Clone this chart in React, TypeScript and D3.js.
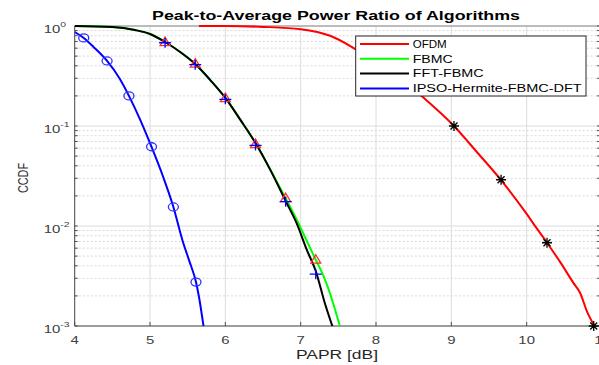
import React from "react";
import * as d3 from "d3";

// series (x = PAPR in dB, y = CCDF)
const ofdmX = [5.65, 6.0, 6.5, 7.0, 7.4, 7.75, 8.2, 8.62, 9.035, 9.35, 9.66, 10.0, 10.12, 10.27, 10.45, 10.62, 10.71, 10.8, 10.9];
const ofdmY = [1, 0.998, 0.98, 0.93, 0.794, 0.575, 0.355, 0.195, 0.1, 0.0537, 0.0288, 0.0132, 0.0098, 0.0068, 0.0043, 0.0027, 0.00214, 0.0014, 0.001];
const ofdmMarkX = [9.035, 9.66, 10.27, 10.89];
const ofdmMarkY = [0.1, 0.029, 0.0068, 0.001];

const fbmcX = [4, 4.5, 4.8, 5.0, 5.2, 5.4, 5.6, 5.8, 6.0, 6.2, 6.4, 6.6, 6.8, 6.95, 7.1, 7.2, 7.3, 7.43, 7.52];
const fbmcY = [1, 0.977, 0.912, 0.832, 0.692, 0.55, 0.417, 0.288, 0.191, 0.115, 0.0676, 0.0363, 0.019, 0.0115, 0.0066, 0.0046, 0.0032, 0.0017, 0.001];
const fbmcMarkX = [5.2, 5.6, 6.0, 6.4, 6.8, 7.2];
const fbmcMarkY = [0.69, 0.42, 0.19, 0.066, 0.019, 0.0046];

const fftX = [4, 4.5, 4.8, 5.0, 5.2, 5.4, 5.6, 5.8, 6.0, 6.2, 6.4, 6.6, 6.8, 6.95, 7.08, 7.2, 7.32, 7.42];
const fftY = [1, 0.977, 0.912, 0.832, 0.692, 0.55, 0.417, 0.288, 0.191, 0.115, 0.0676, 0.036, 0.0178, 0.0105, 0.0058, 0.00355, 0.0017, 0.001];
const fftMarkX = [5.2, 5.6, 6.0, 6.4, 6.8, 7.2];
const fftMarkY = [0.68, 0.41, 0.185, 0.064, 0.0175, 0.0033];

const ipsoX = [4.0, 4.12, 4.25, 4.43, 4.6, 4.72, 4.87, 5.02, 5.17, 5.31, 5.43, 5.52, 5.61, 5.65, 5.71];
const ipsoY = [0.871, 0.759, 0.617, 0.447, 0.295, 0.2, 0.115, 0.0617, 0.0316, 0.0155, 0.0072, 0.0045, 0.00275, 0.00195, 0.001];
const ipsoMarkX = [4.12, 4.43, 4.72, 5.02, 5.31, 5.61];
const ipsoMarkY = [0.76, 0.447, 0.2, 0.062, 0.0155, 0.00275];

const xTicks = [4, 5, 6, 7, 8, 9, 10, 11];
const yTicks = [1, 0.1, 0.01, 0.001];
const yTickExp = ["0", "-1", "-2", "-3"];
const legendNames = ["OFDM", "FBMC", "FFT-FBMC", "IPSO-Hermite-FBMC-DFT"];
const legendColors = ["#ff0000", "#00ff00", "#000000", "#0000ff"];
const legendWidths = [34, 40, 71, 169];

const left = 74.7;
const right = 602;
const top = 26;
const bottom = 326;
const font = "Liberation Sans, Arial, sans-serif";

const x = d3.scaleLinear().domain([4, 11]).range([left, right]);
const y = d3.scaleLog().domain([0.001, 1]).range([bottom, top]);

const line = (xs: number[], ys: number[]) =>
  d3
    .line<number>()
    .x((d) => x(d))
    .y((d, i) => y(ys[i]))
    .curve(d3.curveMonotoneX)(xs) || "";

// minor grid values 2..9 x 10^k
const minor: number[] = [];
[0.001, 0.01, 0.1].forEach((p) => {
  for (let k = 2; k <= 9; k++) minor.push(p * k);
});

export default function App() {
  return (
    <svg width={599} height={365} style={{ display: "block", position: "absolute", left: 0, top: 0 }}>
      <rect width={599} height={365} fill="#fff" />
      <defs>
        <clipPath id="plot">
          <rect x={left} y={top - 2} width={right - left} height={bottom - top + 4} />
        </clipPath>
      </defs>

      {/* grid */}
      {minor.map((v) => (
        <line key={"m" + v} x1={left} x2={right} y1={y(v)} y2={y(v)} stroke="#d8d8d8" strokeDasharray="2,2" />
      ))}
      {yTicks.map((v) => (
        <line key={"gy" + v} x1={left} x2={right} y1={y(v)} y2={y(v)} stroke="#dcdcdc" />
      ))}
      {xTicks.map((v) => (
        <line key={"gx" + v} x1={x(v)} x2={x(v)} y1={top} y2={bottom} stroke="#dcdcdc" />
      ))}

      {/* axes box */}
      <line x1={left} x2={right} y1={top} y2={top} stroke="#8a8a8a" />
      <line x1={left} x2={left} y1={top} y2={bottom} stroke="#4d4d4d" />
      <line x1={left} x2={right} y1={bottom} y2={bottom} stroke="#4d4d4d" />
      <line x1={right} x2={right} y1={top} y2={bottom} stroke="#4d4d4d" />
      {minor.concat(yTicks).map((v) => (
        <g key={"t" + v}>
          <line x1={left} x2={left + 3} y1={y(v)} y2={y(v)} stroke="#4d4d4d" />
          <line x1={right} x2={right - 5} y1={y(v)} y2={y(v)} stroke="#4d4d4d" />
        </g>
      ))}
      {xTicks.map((v) => (
        <line key={"tx" + v} x1={x(v)} x2={x(v)} y1={bottom} y2={bottom - 4} stroke="#4d4d4d" />
      ))}

      {/* curves */}
      <g clipPath="url(#plot)" fill="none" strokeWidth={2} strokeLinejoin="round">
        <path d={line(ofdmX, ofdmY)} stroke="#ff0000" />
        <path d={line(fbmcX, fbmcY)} stroke="#00ff00" />
        <path d={line(fftX, fftY)} stroke="#000000" />
        <path d={line(ipsoX, ipsoY)} stroke="#0000ff" />
      </g>

      {/* markers */}
      <g fill="none" strokeWidth={1.3}>
        {ofdmMarkX.map((v, i) => {
          const cx = x(v);
          const cy = y(ofdmMarkY[i]);
          return (
            <path
              key={"s" + i}
              d={`M${cx - 5},${cy}H${cx + 5}M${cx},${cy - 5}V${cy + 5}M${cx - 3.5},${cy - 3.5}L${cx + 3.5},${cy + 3.5}M${cx - 3.5},${cy + 3.5}L${cx + 3.5},${cy - 3.5}`}
              stroke="#000"
            />
          );
        })}
        {fbmcMarkX.map((v, i) => {
          const cx = x(v);
          const cy = y(fbmcMarkY[i]);
          return <path key={"tr" + i} d={`M${cx},${cy - 5}L${cx + 5},${cy + 3.5}L${cx - 5},${cy + 3.5}Z`} stroke="#ff3030" />;
        })}
        {fftMarkX.map((v, i) => {
          const cx = x(v);
          const cy = y(fftMarkY[i]);
          return <path key={"p" + i} d={`M${cx - 6},${cy}H${cx + 6}M${cx},${cy - 5}V${cy + 5}`} stroke="#0000ff" />;
        })}
        {ipsoMarkX.map((v, i) => (
          <ellipse key={"c" + i} cx={x(v)} cy={y(ipsoMarkY[i])} rx={5} ry={4} stroke="#3030ff" />
        ))}
      </g>

      {/* tick labels */}
      {xTicks.map((v) => (
        <text
          key={"lx" + v}
          transform={`translate(${x(v)},344) scale(1.3,1)`}
          textAnchor="middle"
          fontFamily={font}
          fontSize={11.5}
          fill="#404040"
        >
          {v}
        </text>
      ))}
      {yTicks.map((v, i) => (
        <g key={"ly" + v} transform={`translate(${left - 6},${y(v) + 6.5}) scale(1.3,1)`} fill="#404040" fontFamily={font}>
          <text x={-6.5} textAnchor="end" fontSize={11.5}>
            10
          </text>
          <text x={-6.5} y={-6} fontSize={8}>
            {yTickExp[i]}
          </text>
        </g>
      ))}

      {/* title and axis labels */}
      <text x={336} y={20} textAnchor="middle" fontFamily={font} fontWeight="bold" fontSize={13.5} textLength={368} lengthAdjust="spacingAndGlyphs" fill="#000">
        Peak-to-Average Power Ratio of Algorithms
      </text>
      <text x={337} y={359} textAnchor="middle" fontFamily={font} fontSize={12} textLength={82} lengthAdjust="spacingAndGlyphs" fill="#262626">
        PAPR [dB]
      </text>
      <text
        transform="translate(27.5,178) rotate(-90)"
        textAnchor="middle"
        fontFamily={font}
        fontSize={14.5}
        textLength={30}
        lengthAdjust="spacingAndGlyphs"
        fill="#333"
      >
        CCDF
      </text>

      {/* legend */}
      <rect x={355.7} y={36} width={230.3} height={60} fill="#fff" stroke="#262626" />
      {legendNames.map((name, i) => {
        const ly = 44 + i * 14.8;
        return (
          <g key={name}>
            <line x1={360} x2={409} y1={ly} y2={ly} stroke={legendColors[i]} strokeWidth={2} />
            <text x={412.7} y={ly + 3.8} fontFamily={font} fontSize={10} textLength={legendWidths[i]} lengthAdjust="spacingAndGlyphs" fill="#000">
              {name}
            </text>
          </g>
        );
      })}
    </svg>
  );
}
